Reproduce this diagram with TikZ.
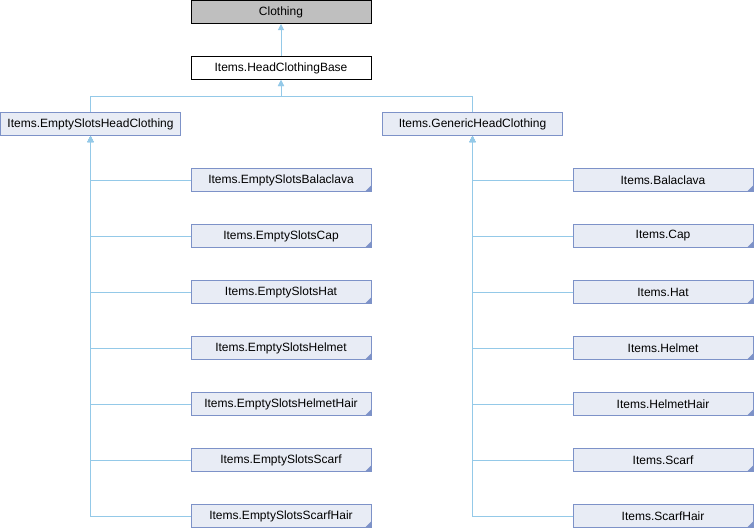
\documentclass[tikz,border=0pt]{standalone}
\usepackage{fontspec}
\setmainfont{Liberation Sans}
\usetikzlibrary{arrows.meta}
\definecolor{boxfill}{HTML}{E8ECF5}
\definecolor{boxline}{HTML}{7D92C8}
\definecolor{edgeline}{HTML}{94C9E8}
\definecolor{topfill}{HTML}{BFBFBF}
\tikzset{
  cls/.style={draw, line width=1pt, minimum width=180pt, minimum height=23pt,
    inner sep=0pt, font=\fontsize{12}{14}\selectfont},
  basecls/.style={cls, fill=white, draw=black},
  rootcls/.style={cls, fill=topfill, draw=black},
  leafcls/.style={cls, fill=boxfill, draw=boxline},
  morecls/.style={leafcls, path picture={
      \fill[boxline] (path picture bounding box.south east) -- ++(-6pt,0pt)
        -- ++(6pt,6pt) -- cycle;}},
  inherit/.style={draw=edgeline, line width=1pt,
    {Triangle[width=6pt,length=6pt]}-}
}
\begin{document}
\begin{tikzpicture}[x=1pt, y=-1pt]
  \useasboundingbox (0,0) rectangle (754,528);
  \node[rootcls] (clothing) at (281,12) {Clothing};
  \node[basecls] (hcb) at (281,68) {Items.HeadClothingBase};
  \node[leafcls] (esh) at (90.5,124) {Items.EmptySlotsHeadClothing};
  \node[leafcls] (ghc) at (472.5,124) {Items.GenericHeadClothing};
  \coordinate (split) at (281,96);
  % left branch
  \node[morecls] (esbalaclava) at (281,180) {Items.EmptySlotsBalaclava};
  \node[morecls] (escap) at (281,236) {Items.EmptySlotsCap};
  \node[morecls] (eshat) at (281,292) {Items.EmptySlotsHat};
  \node[morecls] (eshelmet) at (281,348) {Items.EmptySlotsHelmet};
  \node[morecls] (eshelmethair) at (281,404) {Items.EmptySlotsHelmetHair};
  \node[morecls] (esscarf) at (281,460) {Items.EmptySlotsScarf};
  \node[morecls] (esscarfhair) at (281,516) {Items.EmptySlotsScarfHair};
  % right branch
  \node[morecls] (balaclava) at (663,180) {Items.Balaclava};
  \node[morecls] (cap) at (663,236) {Items.Cap};
  \node[morecls] (hat) at (663,292) {Items.Hat};
  \node[morecls] (helmet) at (663,348) {Items.Helmet};
  \node[morecls] (helmethair) at (663,404) {Items.HelmetHair};
  \node[morecls] (scarf) at (663,460) {Items.Scarf};
  \node[morecls] (scarfhair) at (663,516) {Items.ScarfHair};
  \begin{scope}[inherit]
    \draw (clothing) to (hcb);
    \draw (hcb) -- (split) -| (esh);
    \draw (hcb) -- (split) -| (ghc);
    \draw (esh) |- (esbalaclava);
    \draw (esh) |- (escap);
    \draw (esh) |- (eshat);
    \draw (esh) |- (eshelmet);
    \draw (esh) |- (eshelmethair);
    \draw (esh) |- (esscarf);
    \draw (esh) |- (esscarfhair);
    \draw (ghc) |- (balaclava);
    \draw (ghc) |- (cap);
    \draw (ghc) |- (hat);
    \draw (ghc) |- (helmet);
    \draw (ghc) |- (helmethair);
    \draw (ghc) |- (scarf);
    \draw (ghc) |- (scarfhair);
  \end{scope}
\end{tikzpicture}
\end{document}
